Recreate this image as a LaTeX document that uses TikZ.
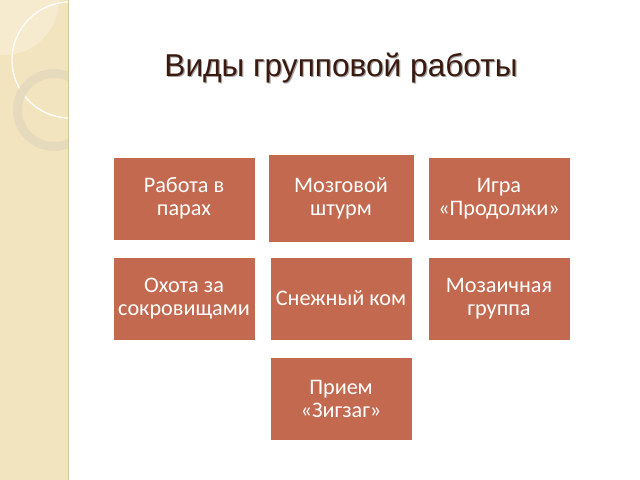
\documentclass[tikz,border=0pt]{standalone}
\usepackage{fontspec}
\setmainfont{Carlito}
\newfontfamily\titlefont{Liberation Sans}

\definecolor{band}{HTML}{F3E4C0}
\definecolor{bandedge}{HTML}{D6C6A2}
\definecolor{ring}{HTML}{E2D8BC}
\definecolor{brick}{HTML}{C3694F}
\definecolor{titlebrown}{HTML}{3A1A0F}

\tikzset{
    vidbox/.style={fill=brick, draw=white, line width=0.4pt, text=white,
        minimum width=3.55cm, minimum height=2.075cm, inner sep=0pt,
        align=center, font=\fontsize{15.8}{16.2}\selectfont}
}

\begin{document}
\begin{tikzpicture}[x=0.025cm, y=-0.025cm]
    \useasboundingbox (0,0) rectangle (640,480);

    % Franja lateral
    \fill[band] (0,0) rectangle (68,480);
    \begin{scope}
        \clip (0,0) rectangle (68,480);
        % Circulo claro
        \fill[white, opacity=0.25] (4,0) circle (55);
        % Arco blanco
        \draw[white, line width=1pt, opacity=0.9] (70,60) circle (58);
        % Anillo gris
        \fill[ring, opacity=0.8, even odd rule] (54,110) circle (41) (54,110) circle (32);
    \end{scope}
    \draw[bandedge, line width=1.4pt] (68.5,0) -- (68.5,480);

    % Titulo
    \node[anchor=base, text=black!35, font=\titlefont\fontsize{22.5}{26}\selectfont] at (342.2,77.2) {Виды групповой работы};
    \node[anchor=base, text=titlebrown, font=\titlefont\fontsize{22.5}{26}\selectfont] (titulo) at (341,76) {Виды групповой работы};

    % Cajas
    \node[vidbox] (pares) at (184,198.5) {Работа в\\парах};
    \node[vidbox, minimum width=3.65cm, minimum height=2.2cm] (mozg) at (341,198) {Мозговой\\штурм};
    \node[vidbox] (prod) at (499,198.5) {Игра\\«Продолжи»};
    \node[vidbox] (okhota) at (184,298.5) {Охота за\\сокровищами};
    \node[vidbox] (snezh) at (341,298.5) {Снежный ком};
    \node[vidbox] (mozaik) at (499,298.5) {Мозаичная\\группа};
    \node[vidbox] (zigzag) at (341,399) {Прием\\«Зигзаг»};
\end{tikzpicture}
\end{document}
